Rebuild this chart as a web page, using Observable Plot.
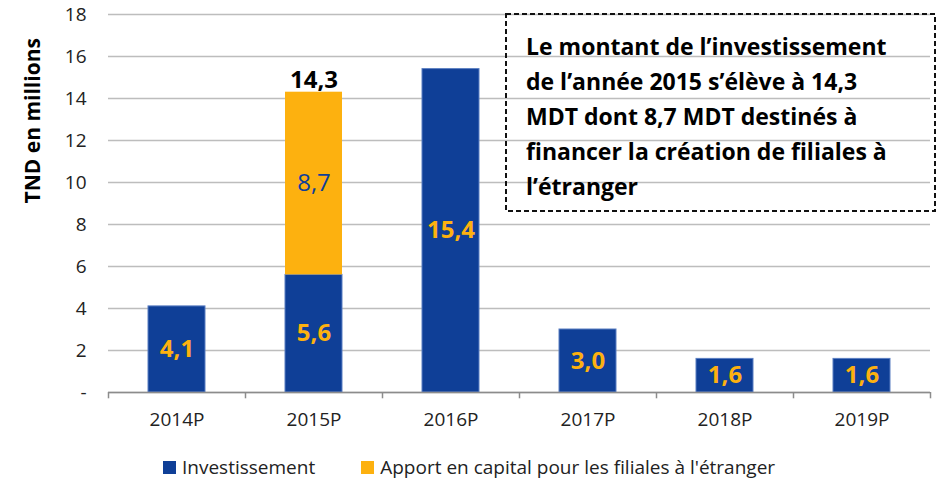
<!DOCTYPE html>
<html>
<head>
<meta charset="utf-8">
<script src="https://cdn.jsdelivr.net/npm/d3@7"></script>
<script src="https://cdn.jsdelivr.net/npm/@observablehq/plot@0.6"></script>
<style>
  html, body { margin: 0; padding: 0; background: #fff; }
  #wrap { position: relative; width: 939px; height: 488px; font-family: "Open Sans", sans-serif; }
  #legend { position: absolute; top: 454px; left: 163px; display: flex; align-items: center; font-size: 19px; color: #222; }
  .sw { display: inline-block; width: 13px; height: 13px; margin-right: 6px; }
</style>
</head>
<body>
<div id="wrap"></div>
<script>
const years = ["2014P", "2015P", "2016P", "2017P", "2018P", "2019P"];
const investissement = [4.1, 5.6, 15.4, 3.0, 1.6, 1.6];
const apport = [0, 8.7, 0, 0, 0, 0];
const seriesNames = ["Investissement", "Apport en capital pour les filiales à l'étranger"];
const seriesColors = ["#0F3F97", "#FDB10F"];
const yTicks = [0, 2, 4, 6, 8, 10, 12, 14, 16, 18];
const noteLines = [
  "Le montant de l’investissement",
  "de l’année 2015 s’élève à 14,3",
  "MDT dont 8,7 MDT destinés à",
  "financer la création de filiales à",
  "l’étranger"
];

const fmt = v => d3.format(".1f")(v).replace(".", ",");

const rows = [];
years.forEach((y, i) => {
  rows.push({year: y, series: seriesNames[0], value: investissement[i]});
  if (apport[i] > 0) rows.push({year: y, series: seriesNames[1], value: apport[i]});
});
const totals = years.map((y, i) => ({year: y, total: investissement[i] + apport[i], hasApport: apport[i] > 0}))
  .filter(d => d.hasApport);

const W = 939, H = 448, ML = 108, MR = 9;
const band = (W - ML - MR) / years.length;

const stackOpts = {x: "year", y: "value", z: "series", order: seriesNames};

const chart = Plot.plot({
  width: W,
  height: H,
  marginLeft: ML,
  marginRight: MR,
  marginTop: 14,
  marginBottom: 56,
  style: {fontFamily: "'Open Sans', sans-serif", fontSize: "16px", color: "#222", background: "#fff"},
  x: {domain: years, padding: 0, label: null},
  y: {domain: [0, 18], label: null},
  color: {domain: seriesNames, range: seriesColors},
  marks: [
    Plot.gridY(yTicks, {stroke: "#BDBDBD", strokeOpacity: 1, strokeWidth: 1.5}),
    Plot.barY(rows, Plot.stackY({
      ...stackOpts, fill: "series",
      insetLeft: 40, insetRight: 40,
      stroke: d => d.series === seriesNames[0] ? "#5B7FC2" : "none", strokeWidth: 1
    })),
    Plot.ruleY([0], {stroke: "#8C8C8C", strokeWidth: 1.5}),
    Plot.ruleX(years, {x: d => d, dx: -band / 2, y1: 0, y2: -0.3, stroke: "#8C8C8C", strokeWidth: 1.5}),
    Plot.ruleX(years.slice(-1), {x: d => d, dx: band / 2, y1: 0, y2: -0.3, stroke: "#8C8C8C", strokeWidth: 1.5}),
    Plot.text(rows, Plot.stackY({
      ...stackOpts,
      text: d => d.series === seriesNames[0] ? fmt(d.value) : "",
      fill: seriesColors[1], fontWeight: "bold", fontSize: 24
    })),
    Plot.text(rows, Plot.stackY({
      ...stackOpts,
      text: d => d.series === seriesNames[1] ? fmt(d.value) : "",
      fill: seriesColors[0], fontWeight: "normal", fontSize: 24
    })),
    Plot.text(totals, {x: "year", y: "total", text: d => fmt(d.total), lineAnchor: "bottom", dy: -4,
      fontWeight: "bold", fontSize: 24, fill: "#000"}),
    Plot.axisY(yTicks, {tickSize: 0, tickPadding: 22, tickFormat: d => d === 0 ? "-" : d, fontSize: 19, fill: "#222", label: null}),
    Plot.axisX({tickSize: 0, tickPadding: 20, fontSize: 19, fill: "#222", label: null}),
    Plot.text(["TND en millions"], {frameAnchor: "left", rotate: -90, dx: -75, fontWeight: "bold", fontSize: 21, fill: "#000"})
  ]
});

// annotation box drawn inside the chart SVG, over the grid (transparent)
const svg = d3.select(chart);
const g = svg.append("g");
g.append("rect")
  .attr("x", 506).attr("y", 14).attr("width", 429).attr("height", 197)
  .attr("fill", "none").attr("stroke", "#111").attr("stroke-width", 2).attr("stroke-dasharray", "5,3");
g.append("text")
  .attr("text-anchor", "start")
  .attr("font-family", "'Open Sans', sans-serif").attr("font-weight", "bold").attr("font-size", 23).attr("fill", "#000")
  .selectAll("tspan").data(noteLines).join("tspan")
  .attr("x", 526).attr("y", (d, i) => 55 + i * 35)
  .text(d => d);

const wrap = document.getElementById("wrap");
wrap.appendChild(chart);

const legend = document.createElement("div");
legend.id = "legend";
legend.innerHTML = seriesNames.map((n, i) =>
  `<span class="sw" style="background:${seriesColors[i]}"></span><span style="margin-right:${i === 0 ? 46 : 0}px">${n}</span>`).join("");
wrap.appendChild(legend);
</script>
</body>
</html>
